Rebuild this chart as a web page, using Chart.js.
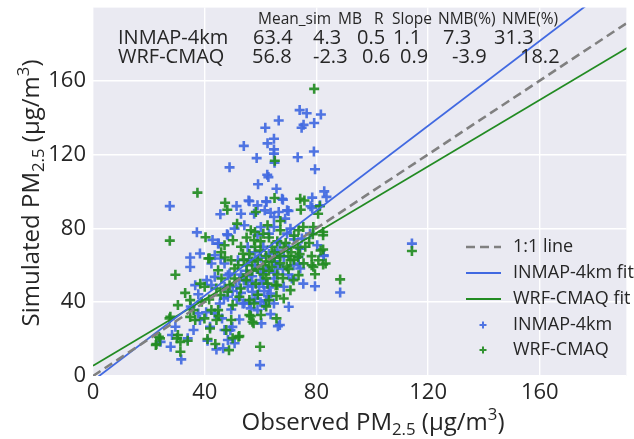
<!DOCTYPE html>
<html>
<head>
<meta charset="utf-8">
<script src="https://cdn.jsdelivr.net/npm/chart.js@4.4.1/dist/chart.umd.min.js"></script>
<style>
  html, body { margin: 0; padding: 0; background: #fff; }
  #chart { display: block; }
</style>
</head>
<body>
<canvas id="chart" width="634" height="439"></canvas>
<script>
// observed vs simulated PM2.5, [obs, sim]
const inmapPoints = [
  [74, 144], [76.5, 142.3], [81.6, 141.6], [66.5, 138.4], [61.7, 134.4], [75.4, 136], [74.7, 134.4], [79.2, 137],
  [64.8, 128.5], [62.5, 126], [54, 124.6], [64.8, 122.7], [64.8, 120.4], [65, 115.5], [58.6, 118], [73.3, 118.5],
  [79.1, 121.6], [79.5, 112], [48.9, 113], [62.4, 109], [27.5, 92], [62.8, 107.7], [59.1, 103.8], [65.7, 101.4],
  [55.7, 95], [51.4, 92], [45.6, 87.6], [67.7, 96], [78.5, 96.6], [82.8, 100], [83.6, 97], [78.5, 91],
  [58.9, 92.4], [62, 94.6], [66.5, 88.8], [69.5, 89.7], [68, 95.5], [56, 94.6], [62.1, 94.2], [70, 89.4],
  [77.9, 91.9], [81.3, 92.4], [53, 87.9], [57.7, 87.9], [61.5, 89.7], [63.6, 88.4], [64.8, 86.1], [68.8, 85.2],
  [70.7, 79.8], [80.3, 70.8], [82.6, 65.4], [74.2, 69], [73.6, 60.9], [37.2, 77.8], [42.8, 73.7], [48, 76.8],
  [45, 71.7], [34.8, 64.2], [38.3, 66.3], [34.8, 59], [45.7, 63.6], [28.3, 22.2], [27.8, 15.8], [31.6, 9],
  [33.9, 20.4], [41, 19.1], [44.2, 14.4], [46.6, 15], [50.7, 17.7], [49.9, 26.6], [49.2, 24.8], [59.8, 5.9],
  [66.2, 27], [66.9, 27.6], [63.6, 33.5], [60.3, 28.5], [52.4, 30.6], [49.5, 36], [46.2, 31.2], [36, 24.9],
  [35, 37.6], [38.3, 30.3], [40.5, 34.5], [37.7, 44.3], [43.6, 33.9], [45.4, 39.3], [46.9, 42], [48.3, 42.9],
  [51.5, 41.4], [54.2, 39.3], [56.5, 36.6], [58.9, 35.7], [61.3, 38.4], [64.8, 39.3], [70.1, 37.5], [63.6, 44.7],
  [61.3, 46], [57.1, 45.6], [55.4, 48.3], [51.3, 48.3], [47.1, 48.3], [42.4, 49.2], [40.7, 51.9], [43.6, 53.7],
  [48.3, 54.6], [52.4, 51.9], [56.5, 51], [60.1, 51.9], [64.8, 52.8], [68.3, 48.3], [71.2, 52.8], [75.3, 50],
  [79.5, 48.6], [88.5, 45.2], [82.6, 65], [77.7, 77.1], [74.8, 74.4], [73.6, 64.5], [74.2, 58.2], [71.8, 60],
  [68.3, 64.5], [69.5, 77.1], [64.8, 80.7], [58.9, 76.2], [55.4, 69.9], [51.9, 62.7], [48.9, 55.5], [47.1, 60.9],
  [42.4, 60.9], [43.6, 65.4], [44.8, 71.7], [48.3, 76.2], [50.7, 79.8], [54.2, 81.6], [60.1, 80.7], [63, 77.1],
  [36.6, 49.2], [29.5, 26.7], [24.2, 18.5], [48.3, 19.5], [41.9, 26.7], [47.1, 24.9], [37.7, 33.9], [62.7, 43.2],
  [53.6, 39.3], [55.9, 39.6], [59.5, 48.3], [114.2, 71.7],
  [58, 42], [60, 40], [62, 41], [59, 44], [61, 50], [63, 48], [57, 54], [60, 56], [62, 58], [65, 56],
  [66, 60], [58, 60], [55, 57], [53, 55], [56, 63], [60, 64], [63, 66], [66, 68], [70, 70], [72, 74],
  [67, 72], [61, 70], [58, 67], [65, 62], [68, 58], [70, 55], [53, 45], [50, 46], [54, 52], [57, 49]
];

const wrfPoints = [
  [79.2, 155.5], [65.1, 116.6], [37.4, 99.3], [65, 96.4], [47.3, 93.8], [48.1, 90], [74.2, 96], [75.7, 95],
  [81.2, 91.9], [74.4, 90], [58.3, 88.8], [80.6, 87.9], [67.1, 83.9], [73.6, 78.9], [75.3, 80.7], [78.7, 76.8],
  [77.4, 72], [82.4, 78], [82.4, 68.5], [78.3, 64.9], [73.4, 64.5], [82.4, 60.4], [78.9, 59.1], [40.3, 75.1],
  [27.5, 73.3], [41.7, 63.8], [47.2, 64.2], [29.5, 54.8], [33, 45], [30.4, 38.4], [27.4, 31.2], [22.7, 17.3],
  [24, 20.4], [30.4, 22.2], [31.3, 13.1], [33.9, 19.1], [41, 20], [43.8, 17.3], [48.7, 14], [52.1, 21.2],
  [47.7, 24.9], [59.8, 15.8], [65.7, 31.2], [56, 33], [57.1, 29.4], [49.5, 30.3], [44.8, 35.7], [41.9, 25.7],
  [34.8, 41.1], [36, 35.7], [39.9, 31.2], [38.9, 40.2], [41.6, 41.4], [42.4, 35.7], [45, 32.6], [45.7, 43.8],
  [48.2, 45.6], [50, 38.4], [52.4, 42.9], [56, 41.1], [57.7, 39.3], [60.1, 33], [63, 41.1], [68.3, 42],
  [65.7, 43.3], [59, 44], [52.9, 47.4], [48.9, 49.2], [44.2, 47.4], [40, 48.3], [38.4, 50], [46, 52.8],
  [50.7, 52.8], [54.8, 51.9], [58.3, 50], [62.5, 50], [66, 49.2], [70.7, 46.5], [71.8, 51.9], [73.6, 54.6],
  [79.5, 55.1], [88.5, 52.3], [78.3, 60], [80.7, 62.7], [83.3, 60.9], [81.5, 68], [82.4, 76.2], [78.9, 80.7],
  [73.4, 69.6], [75.4, 61], [70.7, 62.7], [69.4, 59.3], [68.3, 69.6], [67.1, 78.9], [62.5, 81.6], [57.7, 73.5],
  [53.7, 66.2], [50.7, 58.2], [49.5, 62.7], [44.8, 57.3], [41.3, 63.6], [45.9, 67], [47.1, 70.8], [50.1, 73.5],
  [51.6, 82.5], [56.5, 78.9], [27.7, 32.1], [23.6, 21.2], [22.5, 16.8], [30.1, 20.4], [31.3, 18.5], [50, 20.5],
  [44.2, 30.3], [36.6, 30.3], [34.8, 32], [62, 37.7], [65.4, 49.2], [56.5, 32.4], [57.5, 28.5], [52.4, 21.6],
  [114.2, 67.7],
  [55, 60], [57, 62], [59, 58], [61, 60], [63, 62], [65, 64], [62, 65], [60, 68], [58, 70], [64, 70],
  [66, 73], [63, 75], [60, 73], [56, 66], [54, 63], [52, 60], [61, 55], [63, 57], [66, 55], [68, 53],
  [70, 58], [72, 63], [74, 66], [76, 70], [71, 67], [69, 72], [72, 76], [55, 55], [57, 57], [59, 63],
  [62, 53], [64, 59], [67, 61], [53, 70], [55, 75], [58, 78], [61, 77], [65, 67], [67, 65], [70, 65]
];

// regression lines as drawn: [slope, intercept]
const oneToOne = [1, 0];
const inmapFit = [1.15, -2.5];
const wrfFit = [0.90, 5.5];

const xTicks = [0, 40, 80, 120, 160];
const yTicks = [0, 40, 80, 120, 160];

const statHeaders = ['Mean_sim', 'MB', 'R', 'Slope', 'NMB(%)', 'NME(%)'];
const statModels = ['INMAP-4km', 'WRF-CMAQ'];
const statInmap = ['63.4', '4.3', '0.5', '1.1', '7.3', '31.3'];
const statWrf = ['56.8', '-2.3', '0.6', '0.9', '-3.9', '18.2'];

const FONT = '"Open Sans", "Noto Sans", sans-serif';
const TEXT = '#262626';
const BLUE = 'rgba(65, 105, 225, 0.92)';
const GREEN = 'rgba(34, 139, 34, 0.92)';

function fitLine(fit) {
    return [0, 200].map((x) => ({ x: x, y: fit[0] * x + fit[1] }));
}

function toXY(points) {
    return points.map((p) => ({ x: p[0], y: p[1] }));
}

// text with sub/superscript pieces, centred on (0,0) of the current transform
function drawRich(ctx, parts, size) {
    let total = 0;
    parts.forEach((p) => {
        ctx.font = `${p.k ? size * 0.7 : size}px ${FONT}`;
        p.w = ctx.measureText(p.t).width;
        total += p.w;
    });
    let x = -total / 2;
    const base = size * 0.36;
    parts.forEach((p) => {
        ctx.font = `${p.k ? size * 0.7 : size}px ${FONT}`;
        let dy = 0;
        if (p.k === 'sub') dy = size * 0.22;
        if (p.k === 'sup') dy = -size * 0.42;
        ctx.fillText(p.t, x, base + dy);
        x += p.w;
    });
}

const backgroundPlugin = {
    id: 'background',
    beforeDraw(chart) {
        const { ctx, chartArea } = chart;
        ctx.save();
        ctx.fillStyle = '#EAEAF2';
        ctx.fillRect(chartArea.left, chartArea.top, chartArea.right - chartArea.left, chartArea.bottom - chartArea.top);
        ctx.restore();
    }
};

const annotationPlugin = {
    id: 'annotations',
    afterDraw(chart) {
        const ctx = chart.ctx;
        ctx.save();
        ctx.fillStyle = TEXT;
        ctx.textAlign = 'left';
        ctx.textBaseline = 'middle';

        // statistics table
        const headX = [258, 338, 374, 392, 438, 502];
        const rowX = [[253, 313, 357, 393, 443, 494], [252, 313, 362, 400, 452, 520]];
        ctx.font = `15.5px ${FONT}`;
        statHeaders.forEach((h, i) => ctx.fillText(h, headX[i], 20));
        ctx.font = `20px ${FONT}`;
        [statInmap, statWrf].forEach((row, r) => {
            const y = r === 0 ? 38 : 57;
            ctx.fillText(statModels[r], 118, y);
            row.forEach((v, i) => ctx.fillText(v, rowX[r][i], y));
        });

        // legend
        const legendY = [247, 273, 299, 325, 350];
        ctx.font = `18px ${FONT}`;
        chart.data.datasets.forEach((ds, i) => {
            const y = legendY[i];
            ctx.fillStyle = TEXT;
            ctx.fillText(ds.label, 513, y);
            ctx.strokeStyle = ds.borderColor;
            if (ds.showLine) {
                ctx.lineWidth = ds.borderWidth;
                ctx.setLineDash(ds.borderDash || []);
                ctx.beginPath();
                ctx.moveTo(466, y);
                ctx.lineTo(501, y);
                ctx.stroke();
                ctx.setLineDash([]);
            } else {
                ctx.lineWidth = 2;
                ctx.beginPath();
                ctx.moveTo(479.5, y);
                ctx.lineTo(486.5, y);
                ctx.moveTo(483, y - 3.5);
                ctx.lineTo(483, y + 3.5);
                ctx.stroke();
            }
        });

        // axis titles
        ctx.fillStyle = TEXT;
        ctx.textAlign = 'left';
        ctx.textBaseline = 'alphabetic';
        ctx.save();
        ctx.translate(373, 421);
        drawRich(ctx, [
            { t: 'Observed PM' }, { t: '2.5', k: 'sub' }, { t: ' (\u03bcg/m' }, { t: '3', k: 'sup' }, { t: ')' }
        ], 24);
        ctx.restore();
        ctx.save();
        ctx.translate(30, 193);
        ctx.rotate(-Math.PI / 2);
        drawRich(ctx, [
            { t: 'Simulated PM' }, { t: '2.5', k: 'sub' }, { t: ' (\u03bcg/m' }, { t: '3', k: 'sup' }, { t: ')' }
        ], 24);
        ctx.restore();
        ctx.restore();
    }
};

function keepTicks(list) {
    return (axis) => {
        axis.ticks = list.map((v) => ({ value: v }));
    };
}

const chartCtx = document.getElementById('chart');

new Chart(chartCtx, {
    type: 'scatter',
    data: {
        datasets: [
            {
                label: '1:1 line',
                data: fitLine(oneToOne),
                showLine: true,
                borderColor: 'rgb(128, 128, 128)',
                borderWidth: 2.6,
                borderDash: [9, 5],
                pointRadius: 0,
                clip: 0,
                order: 0,
            },
            {
                label: 'INMAP-4km fit',
                data: fitLine(inmapFit),
                showLine: true,
                borderColor: 'rgb(65, 105, 225)',
                borderWidth: 1.8,
                pointRadius: 0,
                clip: 0,
                order: 0,
            },
            {
                label: 'WRF-CMAQ fit',
                data: fitLine(wrfFit),
                showLine: true,
                borderColor: 'rgb(34, 139, 34)',
                borderWidth: 1.8,
                pointRadius: 0,
                clip: 0,
                order: 0,
            },
            {
                label: 'INMAP-4km',
                data: toXY(inmapPoints),
                pointStyle: 'cross',
                pointRadius: 5,
                pointBorderWidth: 2.6,
                borderColor: BLUE,
                pointBorderColor: BLUE,
                backgroundColor: BLUE,
                order: 2,
            },
            {
                label: 'WRF-CMAQ',
                data: toXY(wrfPoints),
                pointStyle: 'cross',
                pointRadius: 5,
                pointBorderWidth: 2.6,
                borderColor: GREEN,
                pointBorderColor: GREEN,
                backgroundColor: GREEN,
                order: 1,
            },
        ],
    },
    options: {
        responsive: false,
        animation: false,
        layout: { padding: { top: 6, right: 0, bottom: 0, left: 0 } },
        plugins: {
            legend: { display: false },
            tooltip: { enabled: false },
        },
        scales: {
            x: {
                type: 'linear',
                min: 0,
                max: 191,
                afterBuildTicks: keepTicks(xTicks),
                afterFit: (s) => { s.height = 63; s.paddingLeft = 0; s.paddingRight = 0; },
                ticks: { color: TEXT, font: { family: FONT, size: 22 }, padding: 4, maxRotation: 0 },
                grid: { color: '#ffffff', lineWidth: 1.4, drawTicks: false },
                border: { display: false },
            },
            y: {
                type: 'linear',
                min: 0,
                max: 199.5,
                afterBuildTicks: keepTicks(yTicks),
                afterFit: (s) => { s.width = 93; s.paddingTop = 0; s.paddingBottom = 0; },
                ticks: { color: TEXT, font: { family: FONT, size: 22 }, padding: 7 },
                grid: { color: '#ffffff', lineWidth: 1.4, drawTicks: false },
                border: { display: false },
            },
        },
    },
    plugins: [backgroundPlugin, annotationPlugin],
});
</script>
</body>
</html>
